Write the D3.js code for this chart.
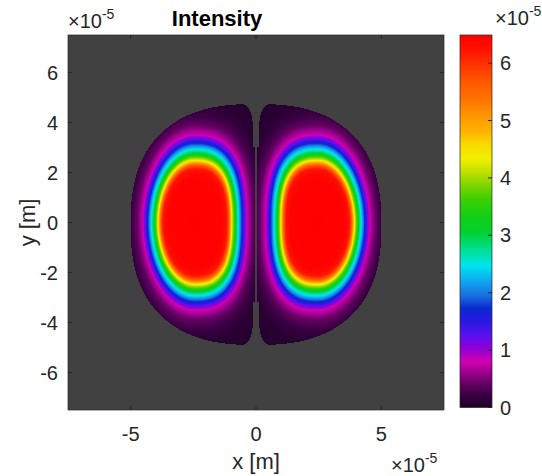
<!DOCTYPE html>
<html><head><meta charset="utf-8">
<script src="https://cdn.jsdelivr.net/npm/d3@7"></script>
<style>
html,body{margin:0;padding:0;background:#fff;}
svg text{font-family:"Liberation Sans",Arial,Helvetica,sans-serif;fill:#262626;}
</style></head>
<body>
<svg id="chart" width="542" height="476"></svg>
<script>
// ---- data (units of 1e-5) ----
const xTicks = [-5, 0, 5];
const yTicks = [-6, -4, -2, 0, 2, 4, 6];
const cbTicks = [0, 1, 2, 3, 4, 5, 6];
const axisLimit = 7.5;            // x and y limits (x1e-5 m)
const cbMax = 6.49;               // colour limit (x1e-5)
// lobe centres (x, y) in 1e-5 m
const lobeCenterX = [-2.44, 2.46];
const lobeCenterY = [0, 0];
const lobeAspect = 1.69;          // vertical / horizontal ring spacing
const innerShape = 2.6;           // rings are flatter (D-shaped) on the side facing x = 0
// radial intensity profile of one lobe, read from ring positions
const profileRho = [0, 1.10, 1.27, 1.36, 1.47, 1.63, 1.73, 1.87, 2.07, 2.30, 2.50, 2.80, 3.50];
const profileVal = [6.49, 6.45, 6.20, 5.60, 4.35, 3.10, 2.50, 1.75, 0.80, 0.42, 0.25, 0.10, 0.02];
// aperture outline (superellipse) and central gap
const apertureA = 5.0, apertureB = 4.82, apertureN = 2.5, apertureY0 = -0.08;
const gapInner = 0.05, gapOuter = 0.13, gapSwitchY = 3.1, cornerRx = 0.42, cornerRy = 0.85;
// colormap stops
const cmapVals = [0, 0.20, 0.40, 0.62, 0.80, 1.03, 1.25, 1.50, 1.72, 1.95, 2.20, 2.47, 2.75, 3.05, 3.40, 3.64, 3.88, 4.10, 4.33, 4.57, 4.80, 5.09, 5.40, 5.65, 6.00, 6.25, 6.49];
const cmapColors = ["#200028","#35003f","#600060","#a00090","#d000b0","#9000d8","#5a10f0","#2a18e0","#0a28d0","#1a6ee0","#10a8f0","#00e4f0","#00e090","#00d030","#18d010","#40d000","#80d400","#c0e000","#f0f000","#f8dc00","#ffb400","#ff9400","#ff7000","#ff5a00","#ff3000","#ff1000","#ff0000"];
const bgColor = "#414141";

// ---- layout ----
const P = {left: 68, right: 444, top: 35, bottom: 410};
const CB = {left: 460, right: 492, top: 35, bottom: 407.5};

const svg = d3.select("#chart");
const x = d3.scaleLinear().domain([-axisLimit, axisLimit]).range([P.left, P.right]);
const y = d3.scaleLinear().domain([-axisLimit, axisLimit]).range([P.bottom, P.top]);
const cb = d3.scaleLinear().domain([0, cbMax]).range([CB.bottom, CB.top]);
const cmap = d3.scaleLinear().domain(cmapVals).range(cmapColors).interpolate(d3.interpolateRgb).clamp(true);
const profile = d3.scaleLinear().domain(profileRho).range(profileVal).clamp(true);

function inAperture(xv, yv) {
  const ax = Math.abs(xv), ay = Math.abs(yv - apertureY0);
  if (Math.pow(ax / apertureA, apertureN) + Math.pow(ay / apertureB, apertureN) > 1) return false;
  const gap = ay < gapSwitchY ? gapInner : gapOuter;
  if (ax < gap) return false;
  const cx = gapOuter + cornerRx;
  if (ax < cx) {
    const ytop = apertureB * Math.pow(1 - Math.pow(cx / apertureA, apertureN), 1 / apertureN);
    const cy = ytop - cornerRy;
    if (ay > cy) {
      const d = Math.hypot((ax - cx) / cornerRx, (ay - cy) / cornerRy);
      if (d > 1) return false;
    }
  }
  return true;
}
function intensity(xv, yv) {
  const i = xv < 0 ? 0 : 1;
  const dx = xv - lobeCenterX[i], dy = (yv - lobeCenterY[i]) / lobeAspect;
  const inner = (i === 0 && dx > 0) || (i === 1 && dx < 0);
  const m = inner ? innerShape : 2;
  const rho = Math.pow(Math.pow(Math.abs(dx), m) + Math.pow(Math.abs(dy), m), 1 / m);
  return profile(rho);
}

// ---- heat map raster ----
const W = Math.round(P.right - P.left), H = Math.round(P.bottom - P.top);
const canvas = document.createElement("canvas");
canvas.width = W; canvas.height = H;
const ctx = canvas.getContext("2d");
const img = ctx.createImageData(W, H);
const bg = d3.rgb(bgColor);
for (let j = 0; j < H; j++) {
  const yv = y.invert(P.top + j + 0.5);
  for (let i = 0; i < W; i++) {
    const xv = x.invert(P.left + i + 0.5);
    let c = bg;
    if (inAperture(xv, yv)) c = d3.rgb(cmap(intensity(xv, yv)));
    const k = (j * W + i) * 4;
    img.data[k] = c.r; img.data[k+1] = c.g; img.data[k+2] = c.b; img.data[k+3] = 255;
  }
}
ctx.putImageData(img, 0, 0);
svg.append("image").attr("x", P.left).attr("y", P.top).attr("width", W).attr("height", H)
  .attr("preserveAspectRatio", "none").attr("href", canvas.toDataURL());

// ---- axes ----
const axCol = "#262626";
svg.append("rect").attr("x", P.left).attr("y", P.top).attr("width", W).attr("height", H)
  .attr("fill", "none").attr("stroke", axCol).attr("stroke-width", 0.7);
const tl = 4;
xTicks.forEach(t => {
  svg.append("line").attr("x1", x(t)).attr("x2", x(t)).attr("y1", P.bottom).attr("y2", P.bottom - tl).attr("stroke", axCol);
  svg.append("line").attr("x1", x(t)).attr("x2", x(t)).attr("y1", P.top).attr("y2", P.top + tl).attr("stroke", axCol);
  svg.append("text").attr("x", x(t)).attr("y", 441).attr("text-anchor", "middle").attr("font-size", 20).text(t);
});
yTicks.forEach(t => {
  svg.append("line").attr("x1", P.left).attr("x2", P.left + tl).attr("y1", y(t)).attr("y2", y(t)).attr("stroke", axCol);
  svg.append("line").attr("x1", P.right).attr("x2", P.right - tl).attr("y1", y(t)).attr("y2", y(t)).attr("stroke", axCol);
  svg.append("text").attr("x", 58).attr("y", y(t)).attr("dy", "0.35em").attr("text-anchor", "end").attr("font-size", 20).text(t);
});
// labels
svg.append("text").attr("x", (P.left + P.right) / 2).attr("y", 469).attr("text-anchor", "middle").attr("font-size", 22).text("x [m]");
svg.append("text").attr("transform", `translate(35,${y(0)}) rotate(-90)`).attr("text-anchor", "middle").attr("font-size", 22).text("y [m]");
svg.append("text").attr("x", 217).attr("y", 26).attr("text-anchor", "middle").attr("font-size", 22).attr("font-weight", "bold").style("fill", "#000").text("Intensity");

function expLabel(xp, yp) {
  const t = svg.append("text").attr("x", xp).attr("y", yp).attr("font-size", 20);
  t.append("tspan").text("\u00d710");
  t.append("tspan").attr("dy", -9).attr("font-size", 14).text("-5");
}
expLabel(68, 28);
expLabel(391, 472);
expLabel(495, 25);

// ---- colorbar ----
const defs = svg.append("defs");
const grad = defs.append("linearGradient").attr("id", "cbgrad").attr("x1", 0).attr("x2", 0).attr("y1", 1).attr("y2", 0);
cmapVals.forEach((v, i) => grad.append("stop").attr("offset", v / cbMax).attr("stop-color", cmapColors[i]));
svg.append("rect").attr("x", CB.left).attr("y", cb(cbMax)).attr("width", CB.right - CB.left).attr("height", cb(0) - cb(cbMax))
  .attr("fill", "url(#cbgrad)").attr("stroke", axCol).attr("stroke-width", 0.7);
cbTicks.forEach(t => {
  svg.append("line").attr("x1", CB.right).attr("x2", CB.right - 4).attr("y1", cb(t)).attr("y2", cb(t)).attr("stroke", axCol);
  svg.append("text").attr("x", 500).attr("y", cb(t)).attr("dy", "0.35em").attr("font-size", 20).text(t);
});
</script>
</body></html>
